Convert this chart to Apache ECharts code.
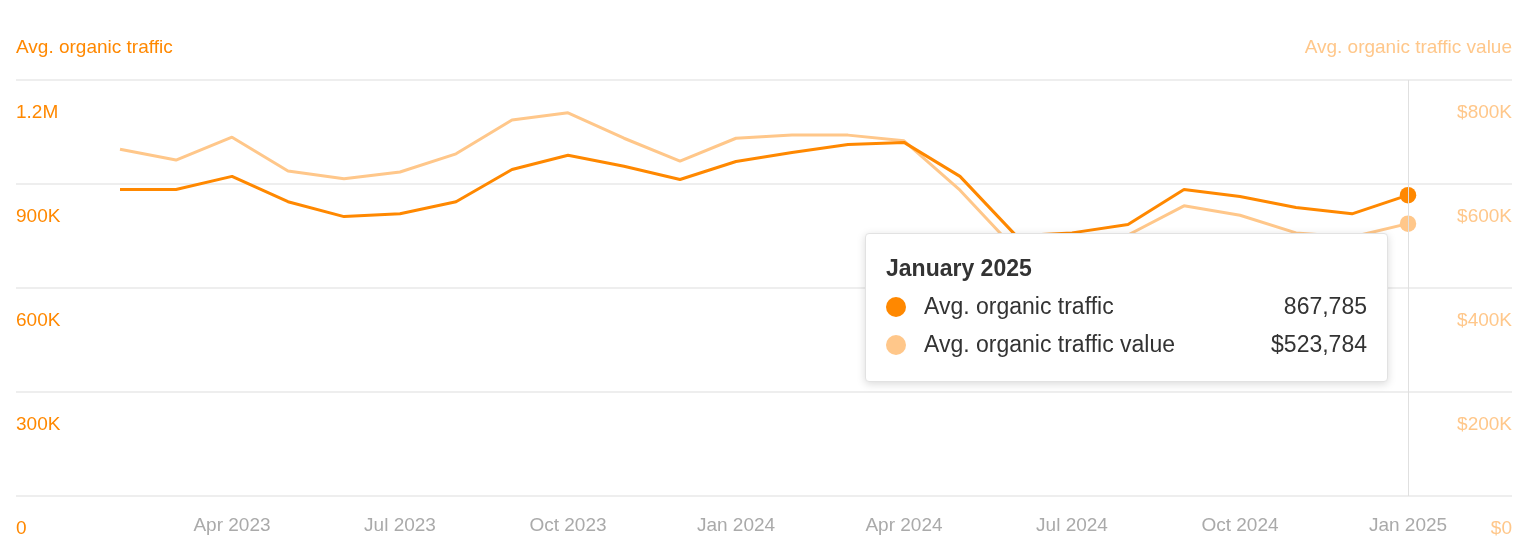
<!DOCTYPE html>
<html>
<head>
<meta charset="utf-8">
<script src="https://cdn.jsdelivr.net/npm/echarts@6/dist/echarts.min.js"></script>
<style>
  html, body { margin: 0; padding: 0; background: #fff; }
  #chart { width: 1540px; height: 558px; }
</style>
</head>
<body>
<div id="chart"></div>
<script>
// months Feb 2023 .. Jan 2025
var months = ['February 2023', 'March 2023', 'April 2023', 'May 2023', 'June 2023', 'July 2023',
  'August 2023', 'September 2023', 'October 2023', 'November 2023', 'December 2023', 'January 2024',
  'February 2024', 'March 2024', 'April 2024', 'May 2024', 'June 2024', 'July 2024',
  'August 2024', 'September 2024', 'October 2024', 'November 2024', 'December 2024', 'January 2025'];
var traffic = [884000, 884000, 922000, 849000, 806000, 814000, 849000, 942000, 983000, 951000, 913000, 965000,
  991000, 1014000, 1020000, 922000, 751000, 759000, 783000, 884000, 864000, 832000, 814000, 867785];
var trafficValue = [667000, 646000, 690000, 625000, 610000, 623000, 658000, 723000, 737000, 688000, 644000, 688000,
  694000, 694000, 683000, 588000, 473000, 463000, 502000, 558000, 540000, 506000, 498000, 523784];
var tickIdx = [2, 5, 8, 11, 14, 17, 20, 23];
var tickLabels = ['Apr 2023', 'Jul 2023', 'Oct 2023', 'Jan 2024', 'Apr 2024', 'Jul 2024', 'Oct 2024', 'Jan 2025'];

var ORANGE = '#ff8800';
var LIGHT = '#ffc78a';
var last = months.length - 1;

function toPoints(arr, color) {
  return arr.map(function (v, i) {
    var p = { value: [i, v] };
    if (i === last) {
      p.symbol = 'circle';
      p.symbolSize = 15;
      p.itemStyle = { color: color, borderWidth: 0 };
    }
    return p;
  });
}

function fmtK(v) {
  if (v === 0) return '0';
  if (v >= 1000000) return (v / 1000000) + 'M';
  return (v / 1000) + 'K';
}

var chart = echarts.init(document.getElementById('chart'));
var option = {
  animation: false,
  textStyle: { fontFamily: 'Helvetica, Arial, "Liberation Sans", sans-serif' },
  title: [
    { text: 'Avg. organic traffic', left: 16, top: 38, padding: 0, textStyle: { color: ORANGE, fontSize: 19, fontWeight: 'normal' } },
    { text: 'Avg. organic traffic value', right: 28, top: 38, padding: 0, textStyle: { color: LIGHT, fontSize: 19, fontWeight: 'normal' } }
  ],
  grid: { left: 16, right: 28, top: 80, bottom: 62 },
  tooltip: {
    trigger: 'axis',
    alwaysShowContent: true,
    position: [865, 233],
    backgroundColor: '#fff',
    borderColor: '#e2e2e2',
    borderWidth: 1,
    padding: [24, 20, 26, 20],
    extraCssText: 'box-shadow: 0 2px 8px rgba(0,0,0,0.15); border-radius: 4px; width: 481px;',
    axisPointer: { type: 'line', lineStyle: { color: '#e0e0e0', width: 1, type: 'solid' } },
    formatter: function (params) {
      var i = params[0].value[0];
      var row = function (c, name, val) {
        return '<div style="display:flex;align-items:center;font-size:23px;color:#333;margin-top:17px;">' +
          '<span style="display:inline-block;width:20px;height:20px;border-radius:50%;background:' + c + ';margin-right:18px;"></span>' +
          '<span style="flex:1">' + name + '</span><span>' + val + '</span></div>';
      };
      return '<div style="font-size:23px;font-weight:bold;color:#333;">' + months[i] + '</div>' +
        row(ORANGE, 'Avg. organic traffic', traffic[i].toLocaleString('en-US')) +
        row(LIGHT, 'Avg. organic traffic value', '$' + trafficValue[i].toLocaleString('en-US'));
    }
  },
  xAxis: {
    type: 'value',
    min: -104 / 56,
    max: 23 + 104 / 56,
    axisLine: { show: false },
    axisTick: { show: false },
    splitLine: { show: false },
    axisLabel: {
      customValues: tickIdx,
      color: '#aaa',
      fontSize: 19,
      margin: 20,
      formatter: function (v) { return tickLabels[tickIdx.indexOf(Math.round(v))] || ''; }
    }
  },
  yAxis: [
    {
      type: 'value', min: 0, max: 1200000, interval: 300000,
      axisLine: { show: false }, axisTick: { show: false },
      splitLine: { lineStyle: { color: '#e8e8e8', width: 1.5 } },
      axisLabel: {
        inside: true, align: 'left', verticalAlign: 'top', padding: [23, 0, 0, 0],
        color: ORANGE, fontSize: 19, margin: 0, formatter: fmtK
      }
    },
    {
      type: 'value', min: 0, max: 800000, interval: 200000,
      axisLine: { show: false }, axisTick: { show: false }, splitLine: { show: false },
      axisLabel: {
        inside: true, align: 'right', verticalAlign: 'top', padding: [23, 0, 0, 0],
        color: LIGHT, fontSize: 19, margin: 0,
        formatter: function (v) { return v === 0 ? '$0' : '$' + fmtK(v); }
      }
    }
  ],
  series: [
    {
      name: 'Avg. organic traffic value', type: 'line', yAxisIndex: 1,
      data: toPoints(trafficValue, LIGHT), symbol: 'none', showSymbol: true,
      lineStyle: { color: LIGHT, width: 3 }, itemStyle: { color: LIGHT },
      emphasis: { disabled: true }
    },
    {
      name: 'Avg. organic traffic', type: 'line', yAxisIndex: 0,
      data: toPoints(traffic, ORANGE), symbol: 'none', showSymbol: true,
      lineStyle: { color: ORANGE, width: 3 }, itemStyle: { color: ORANGE },
      emphasis: { disabled: true }
    }
  ]
};
chart.setOption(option);
chart.dispatchAction({ type: 'showTip', seriesIndex: 1, dataIndex: last });
</script>
</body>
</html>
